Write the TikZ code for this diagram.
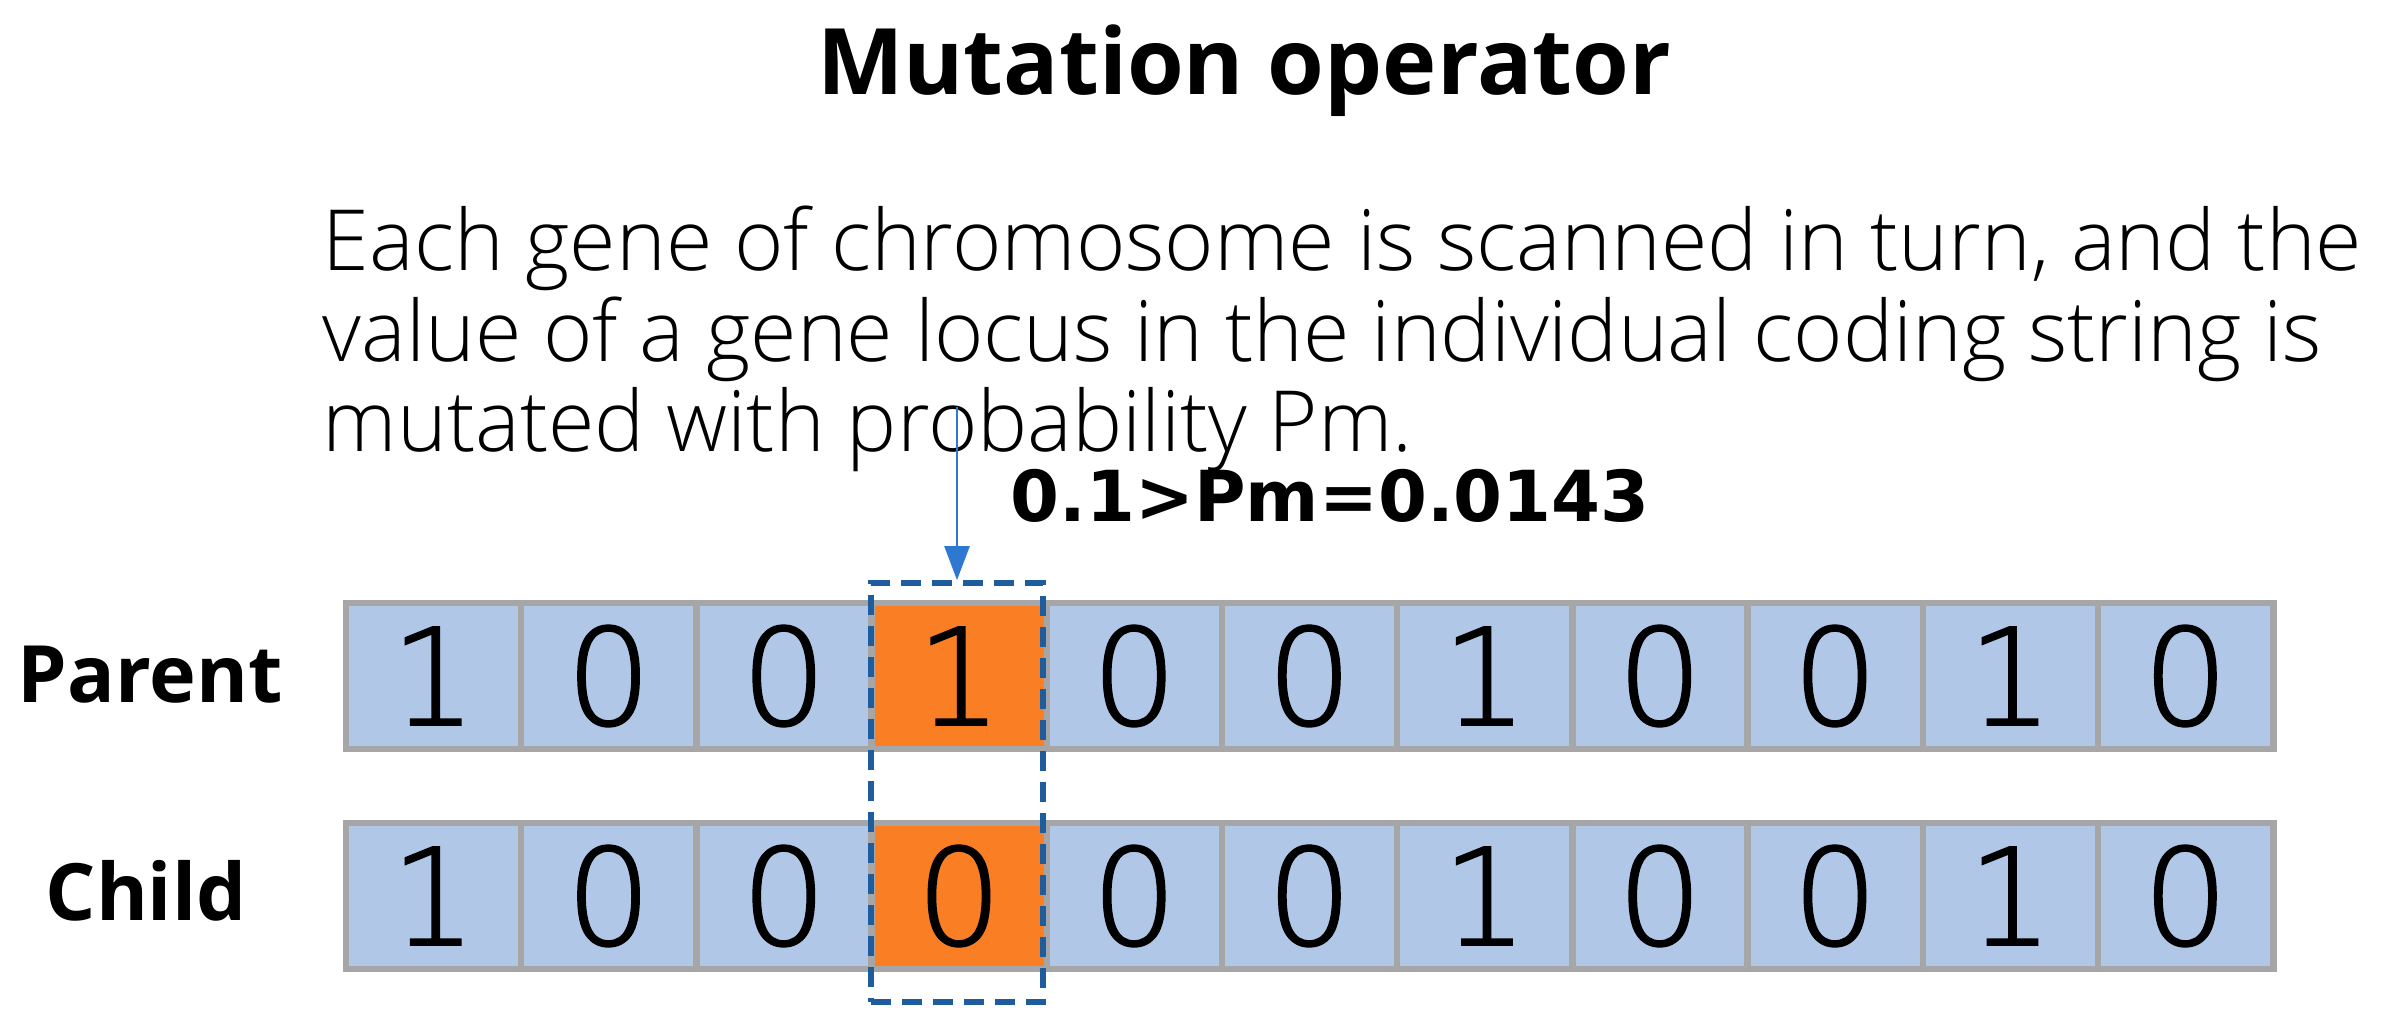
\documentclass[tikz,border=0pt]{standalone}
\usepackage{fontspec}
\setmainfont{Open Sans}
\newfontfamily\digitfont{DejaVu Sans}
\newfontfamily\thindigitfont{DejaVu Sans ExtraLight}[FakeBold=1.6]
\newfontfamily\lightfont{Open Sans Light}
\usetikzlibrary{arrows.meta}
\definecolor{cellblue}{HTML}{B0C7E8}
\definecolor{cellorange}{HTML}{FA7E23}
\definecolor{cellgray}{HTML}{A6A6A6}
\definecolor{dashblue}{HTML}{1F5C9E}
\definecolor{arrowblue}{HTML}{2F78D2}
\begin{document}
\begin{tikzpicture}[x=0.01cm,y=-0.01cm,
 cell/.style={draw=cellgray, line width=0.065cm, fill=cellblue, minimum width=1.752cm, minimum height=1.46cm, inner sep=0pt, font=\thindigitfont\fontsize{38}{38}\selectfont},
 hot/.style={cell, fill=cellorange},
 rowlabel/.style={font=\bfseries\fontsize{22.5}{26}\selectfont, anchor=base, inner sep=0pt},
 body/.style={font=\lightfont\fontsize{24}{28}\selectfont, anchor=base west, inner sep=0pt},
 titletext/.style={font=\bfseries\fontsize{26.1}{30}\selectfont, anchor=base, inner sep=0pt},
 pmtext/.style={font=\digitfont\bfseries\fontsize{20}{24}\selectfont, anchor=base west, inner sep=0pt},
 selbox/.style={draw=dashblue, dash pattern=on 0.2cm off 0.11cm, line width=0.055cm, minimum width=1.72cm, minimum height=4.19cm, inner sep=0pt},
 pointer/.style={arrowblue, line width=0.025cm, -{Triangle[length=0.34cm,width=0.25cm]}}
]
\useasboundingbox (0,0) rectangle (2381,1021);
\node[titletext] (title) at (1244,94) {Mutation operator};
\node[body] (l1) at (322,270) {Each gene of chromosome is scanned in turn, and the};
\node[body] (l2) at (322,361) {value of a gene locus in the individual coding string is};
\node[body] (l3) at (322,451) {mutated with probability Pm.};
\node[pmtext] (pm) at (1010,521) {0.1>Pm=0.0143};
\node[rowlabel] (parent) at (150,702) {Parent};
\node[rowlabel] (child) at (146,920) {Child};
\foreach \v/\s [count=\i from 0] in {1/cell,0/cell,0/cell,1/hot,0/cell,0/cell,1/cell,0/cell,0/cell,1/cell,0/cell}
  \node[\s] (p\i) at ({346+175.2*\i+87.6},676) {\v};
\foreach \v/\s [count=\i from 0] in {1/cell,0/cell,0/cell,0/hot,0/cell,0/cell,1/cell,0/cell,0/cell,1/cell,0/cell}
  \node[\s] (c\i) at ({346+175.2*\i+87.6},896) {\v};
\node[selbox] (sel) at (957,792.5) {};
\coordinate (src) at (957,407);
\draw[pointer] (src) -- (sel.north);
\end{tikzpicture}
\end{document}
